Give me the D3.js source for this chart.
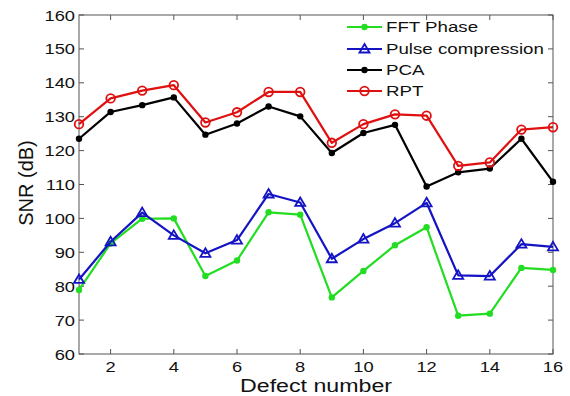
<!DOCTYPE html>
<html><head><meta charset="utf-8">
<script src="https://cdn.jsdelivr.net/npm/d3@7"></script>
<style>body{margin:0;background:#fff}svg{display:block}text{font-family:Arial,"Liberation Sans",sans-serif;fill:#111}</style>
</head><body><svg id="c" width="570" height="396"></svg>
<script>
const defects = [1,2,3,4,5,6,7,8,9,10,11,12,13,14,15,16];
const fftPhase = [78.9,92.6,99.9,100,83.0,87.6,101.8,101.1,76.7,84.5,92.1,97.4,71.3,71.9,85.4,84.8];
const pulseComp = [82.0,93.1,101.7,95.0,89.7,93.6,107.2,104.7,88.1,93.9,98.6,104.6,83.2,83.0,92.4,91.6];
const pca = [123.5,131.4,133.4,135.7,124.7,128.0,133.0,130.1,119.3,125.2,127.6,109.4,113.6,114.7,123.5,110.8];
const rpt = [127.8,135.4,137.7,139.3,128.3,131.3,137.3,137.3,122.3,127.8,130.7,130.3,115.5,116.5,126.2,126.9];
const xTicks = [2,4,6,8,10,12,14,16];
const yTicks = [60,70,80,90,100,110,120,130,140,150,160];
const seriesNames = ["FFT Phase","Pulse compression","PCA","RPT"];

const series = [
  {name:seriesNames[0], values:fftPhase, color:"#22dd22", marker:"dot"},
  {name:seriesNames[1], values:pulseComp, color:"#1414c4", marker:"tri"},
  {name:seriesNames[2], values:pca, color:"#000000", marker:"dot"},
  {name:seriesNames[3], values:rpt, color:"#e01010", marker:"circ"}
];

const L=79, R=553, T=15, B=354;
const svg = d3.select("#c");
const x = d3.scaleLinear().domain([1,16]).range([L,R]);
const y = d3.scaleLinear().domain([60,160]).range([B,T]);
const SX = 1.22;

function stext(g, px, py, str, size, anchor, sx){
  return g.append("text").attr("transform",`translate(${px},${py}) scale(${sx||SX},1)`)
    .attr("text-anchor",anchor).style("font-size",size+"px").text(str);
}

// box
svg.append("rect").attr("x",L).attr("y",T).attr("width",R-L).attr("height",B-T)
  .attr("fill","none").attr("stroke","#555").attr("stroke-width",1);

// ticks (inward, all four sides)
const tk = svg.append("g").attr("stroke","#555").attr("stroke-width",1);
xTicks.forEach(v=>{
  tk.append("line").attr("x1",x(v)).attr("x2",x(v)).attr("y1",B).attr("y2",B-5);
  tk.append("line").attr("x1",x(v)).attr("x2",x(v)).attr("y1",T).attr("y2",T+5);
});
yTicks.forEach(v=>{
  tk.append("line").attr("x1",L).attr("x2",L+5).attr("y1",y(v)).attr("y2",y(v));
  tk.append("line").attr("x1",R).attr("x2",R-5).attr("y1",y(v)).attr("y2",y(v));
});

const lab = svg.append("g");
xTicks.forEach(v=> stext(lab, x(v), 372, String(v), 15, "middle"));
yTicks.forEach(v=> stext(lab, 75, y(v)+5.5, String(v), 15, "end"));

stext(lab, 316, 392, "Defect number", 19, "middle", 1.22);
lab.append("text").attr("transform","translate(33,183) rotate(-90)")
  .attr("text-anchor","middle").style("font-size","20px").text("SNR (dB)");

function drawMarker(g, type, cx, cy, color){
  if(type==="dot"){
    g.append("circle").attr("cx",cx).attr("cy",cy).attr("r",3.2).attr("fill",color);
  } else if(type==="circ"){
    g.append("circle").attr("cx",cx).attr("cy",cy).attr("r",4.3).attr("fill","none")
      .attr("stroke",color).attr("stroke-width",1.8);
  } else {
    const s=5;
    g.append("path").attr("d",`M${cx},${cy-s}L${cx+s},${cy+s*0.7}L${cx-s},${cy+s*0.7}Z`)
      .attr("fill","none").attr("stroke",color).attr("stroke-width",1.8);
  }
}

const line = d3.line().x((d,i)=>x(defects[i])).y(d=>y(d));
series.forEach(s=>{
  const g = svg.append("g");
  g.append("path").attr("d",line(s.values)).attr("fill","none")
    .attr("stroke",s.color).attr("stroke-width",2.2).attr("stroke-linejoin","round");
  s.values.forEach((v,i)=>drawMarker(g, s.marker, x(defects[i]), y(v), s.color));
});

// legend
const lg = svg.append("g");
const legY = [27,49,70,91];
series.forEach((s,i)=>{
  const yy = legY[i];
  lg.append("line").attr("x1",347).attr("x2",382).attr("y1",yy).attr("y2",yy)
    .attr("stroke",s.color).attr("stroke-width",2.2);
  drawMarker(lg, s.marker, 364.5, yy, s.color);
  stext(lg, 386, yy+5, s.name, 14.5, "start", 1.29);
});
</script></body></html>
